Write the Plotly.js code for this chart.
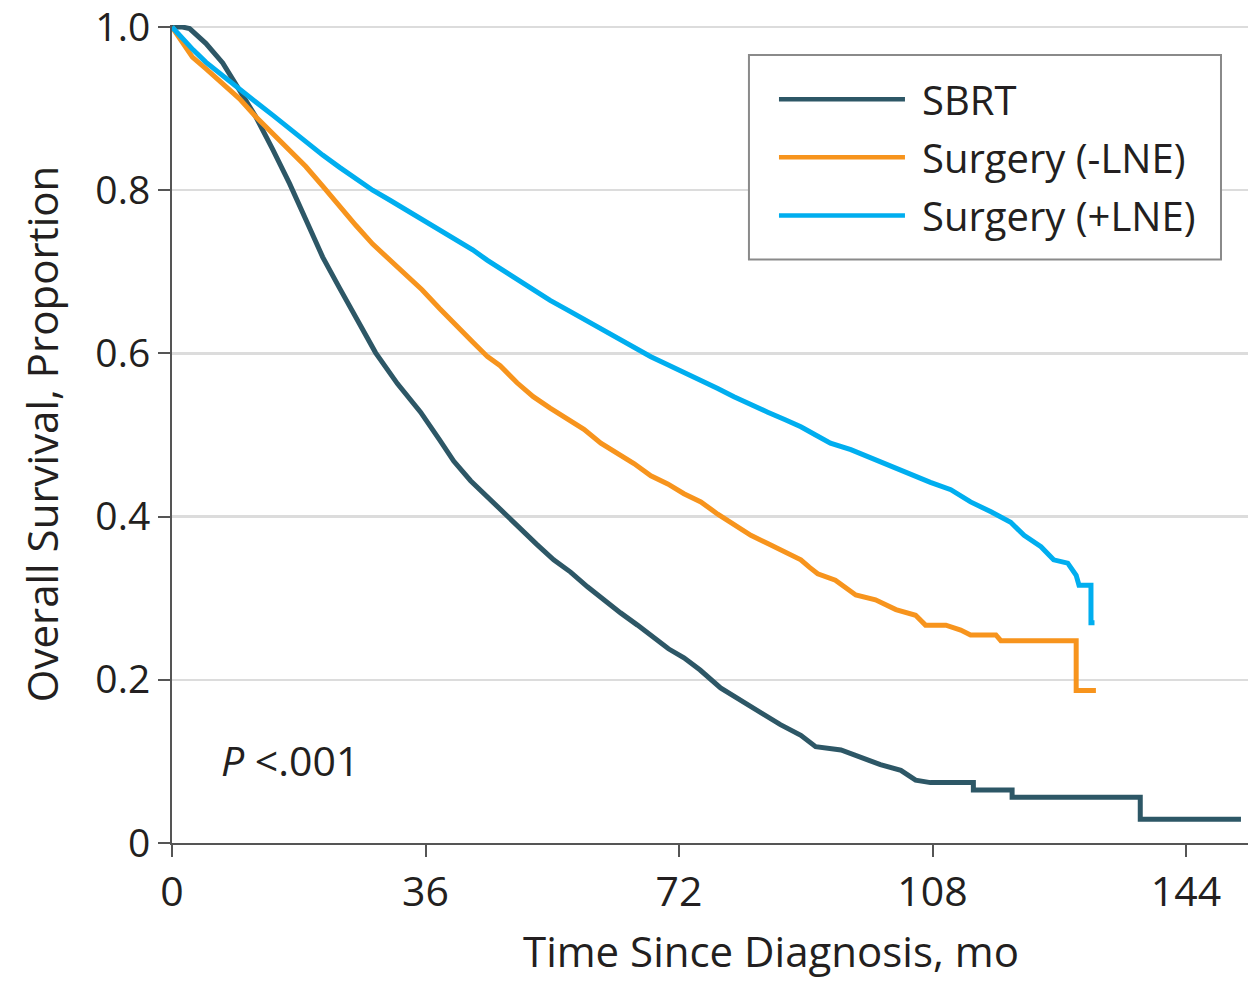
<!DOCTYPE html>
<html>
<head>
<meta charset="utf-8">
<script src="https://cdn.plot.ly/plotly-3.0.1.min.js"></script>
<style>html,body{margin:0;padding:0;background:#fff;}#chart{width:1248px;height:981px;}</style>
</head>
<body>
<div id="chart"></div>
<script>
// Kaplan-Meier overall survival
const seriesNames = ["SBRT", "Surgery (-LNE)", "Surgery (+LNE)"];
const seriesColors = ["#2d5766", "#f7941d", "#00aeef"];

const sbrtTime = [0, 1.5, 2.5, 4.8, 7.2, 9.6, 11.9, 14.3, 16.7, 19.0, 21.4, 23.8, 26.1, 28.9, 32.0, 35.3, 38.0, 40.0, 42.4, 44.8, 47.2, 49.5, 51.8, 54.2, 56.6, 59.0, 61.3, 63.7, 66.1, 68.4, 70.5, 72.7, 75.0, 77.9, 80.7, 83.6, 86.4, 89.3, 91.4, 95.0, 97.8, 100.6, 103.5, 105.6, 107.7, 113.8, 113.8, 119.3, 119.3, 137.5, 137.5, 151.8];
const sbrtSurv = [1.0, 1.0, 0.998, 0.980, 0.956, 0.923, 0.890, 0.850, 0.808, 0.764, 0.718, 0.680, 0.643, 0.601, 0.563, 0.528, 0.494, 0.468, 0.444, 0.424, 0.403, 0.384, 0.366, 0.347, 0.332, 0.314, 0.298, 0.282, 0.267, 0.252, 0.238, 0.227, 0.212, 0.190, 0.175, 0.161, 0.145, 0.132, 0.118, 0.114, 0.105, 0.096, 0.089, 0.077, 0.074, 0.074, 0.065, 0.065, 0.056, 0.056, 0.029, 0.029];

const lneNegTime = [0, 2.9, 4.8, 7.2, 9.6, 11.9, 14.3, 16.7, 19.0, 21.4, 23.8, 26.1, 28.5, 31.0, 33.2, 35.5, 38.0, 40.5, 42.7, 44.8, 46.6, 49.0, 51.3, 53.7, 56.2, 58.5, 60.9, 63.3, 65.6, 68.0, 70.4, 72.7, 75.1, 77.5, 79.8, 82.2, 84.6, 87.0, 89.3, 90.5, 91.7, 94.2, 97.1, 99.9, 102.8, 105.6, 107.0, 109.9, 112.0, 113.4, 117.0, 117.7, 128.4, 128.4, 131.2];
const lneNegSurv = [1.0, 0.963, 0.949, 0.930, 0.912, 0.890, 0.869, 0.849, 0.829, 0.805, 0.780, 0.757, 0.734, 0.714, 0.697, 0.678, 0.655, 0.632, 0.614, 0.596, 0.585, 0.564, 0.547, 0.533, 0.520, 0.507, 0.490, 0.477, 0.465, 0.450, 0.440, 0.428, 0.418, 0.403, 0.390, 0.377, 0.367, 0.357, 0.347, 0.338, 0.330, 0.322, 0.304, 0.298, 0.286, 0.279, 0.267, 0.267, 0.261, 0.255, 0.255, 0.248, 0.248, 0.187, 0.187];

const lnePosTime = [0, 1.5, 3.0, 4.8, 7.2, 9.6, 11.9, 14.3, 16.7, 19.0, 21.4, 23.8, 26.1, 28.5, 30.9, 33.2, 35.6, 38.0, 40.3, 42.7, 44.8, 46.6, 49.0, 51.3, 53.7, 56.2, 58.5, 60.9, 63.3, 65.6, 68.0, 70.4, 72.7, 75.1, 77.5, 79.8, 82.2, 84.6, 87.0, 89.3, 91.4, 93.5, 96.4, 99.2, 102.1, 104.9, 107.7, 110.6, 113.4, 116.3, 119.1, 121.0, 123.4, 125.2, 127.2, 128.4, 128.8, 130.5, 130.5, 131.0];
const lnePosSurv = [1.0, 0.985, 0.972, 0.957, 0.940, 0.924, 0.908, 0.892, 0.875, 0.859, 0.843, 0.828, 0.814, 0.800, 0.788, 0.776, 0.763, 0.751, 0.739, 0.727, 0.714, 0.704, 0.690, 0.678, 0.665, 0.653, 0.642, 0.631, 0.619, 0.607, 0.596, 0.586, 0.577, 0.568, 0.557, 0.547, 0.537, 0.528, 0.519, 0.510, 0.500, 0.490, 0.482, 0.472, 0.461, 0.452, 0.442, 0.433, 0.418, 0.406, 0.393, 0.377, 0.363, 0.347, 0.343, 0.328, 0.316, 0.316, 0.270, 0.270];

const xTickVals = [0, 36, 72, 108, 144];
const xTickText = ["0", "36", "72", "108", "144"];
const yTickVals = [0, 0.2, 0.4, 0.6, 0.8, 1.0];
const yTickText = ["0", "0.2", "0.4", "0.6", "0.8", "1.0"];

const xTitle = "Time Since Diagnosis, mo";
const yTitle = "Overall Survival, Proportion";
const pText = "<i>P</i> <.001";

const FONT = "'Open Sans', 'Noto Sans', sans-serif";
const TXT = "#231f20";

const allTimes = [sbrtTime, lneNegTime, lnePosTime];
const allSurv = [sbrtSurv, lneNegSurv, lnePosSurv];

const traces = seriesNames.map((n, i) => ({
  type: "scatter",
  mode: "lines",
  name: n,
  x: allTimes[i],
  y: allSurv[i],
  line: {color: seriesColors[i], width: 5, shape: "linear"},
  hoverinfo: "skip",
  showlegend: false,
  cliponaxis: false
}));

// Legend box drawn in paper coordinates (key only, not data)
const legendBox = {x0: 0.5362, x1: 0.9749, y0: 0.7132, y1: 0.9632};
const legendRowsY = [0.9093, 0.8382, 0.7672];
const legendLineX = [0.5641, 0.6812];
const legendTextX = 0.6950;

const shapes = [
  {type: "rect", xref: "paper", yref: "paper",
   x0: legendBox.x0, x1: legendBox.x1, y0: legendBox.y0, y1: legendBox.y1,
   line: {color: "#8a8a8a", width: 2}, fillcolor: "#ffffff", layer: "above"}
].concat(seriesNames.map((n, i) => ({
  type: "line", xref: "paper", yref: "paper",
  x0: legendLineX[0], x1: legendLineX[1], y0: legendRowsY[i], y1: legendRowsY[i],
  line: {color: seriesColors[i], width: 4.5}, layer: "above"
})));

const annotations = [
  {xref: "paper", yref: "paper", x: 0.557, y: -0.131, xanchor: "center", yanchor: "middle",
   text: xTitle, showarrow: false, font: {family: FONT, size: 42, color: TXT}},
  {xref: "paper", yref: "paper", x: 0.044, y: 0.102, xanchor: "left", yanchor: "middle",
   text: pText, showarrow: false, font: {family: FONT, size: 41, color: TXT}}
].concat(seriesNames.map((n, i) => ({
  xref: "paper", yref: "paper", x: legendTextX, y: legendRowsY[i],
  xanchor: "left", yanchor: "middle", text: n, showarrow: false,
  font: {family: FONT, size: 40, color: TXT}
})));

const layout = {
  width: 1248,
  height: 981,
  margin: {l: 172, r: 0, t: 25, b: 138, pad: 0},
  paper_bgcolor: "#ffffff",
  plot_bgcolor: "#ffffff",
  font: {family: FONT, size: 40, color: TXT},
  showlegend: false,
  xaxis: {
    range: [0, 152.8],
    tickmode: "array", tickvals: xTickVals, ticktext: xTickText,
    ticks: "outside", ticklen: 12, tickwidth: 2, tickcolor: "#555",
    showline: true, linecolor: "#555", linewidth: 2,
    showgrid: false, zeroline: false,
    tickfont: {family: FONT, size: 41, color: TXT},
    fixedrange: true
  },
  yaxis: {
    range: [0, 1.00245],
    tickmode: "array", tickvals: yTickVals, ticktext: yTickText,
    ticks: "outside", ticklen: 12, tickwidth: 2, tickcolor: "#555",
    showline: true, linecolor: "#555", linewidth: 2,
    showgrid: true, gridcolor: "#dcdcdc", gridwidth: 2.5,
    zeroline: false,
    tickfont: {family: FONT, size: 39, color: TXT},
    ticklabeloverflow: "allow",
    title: {text: yTitle, font: {family: FONT, size: 42, color: TXT}, standoff: 24},
    fixedrange: true
  },
  shapes: shapes,
  annotations: annotations
};

Plotly.newPlot("chart", traces, layout, {displayModeBar: false, staticPlot: true});
</script>
</body>
</html>
